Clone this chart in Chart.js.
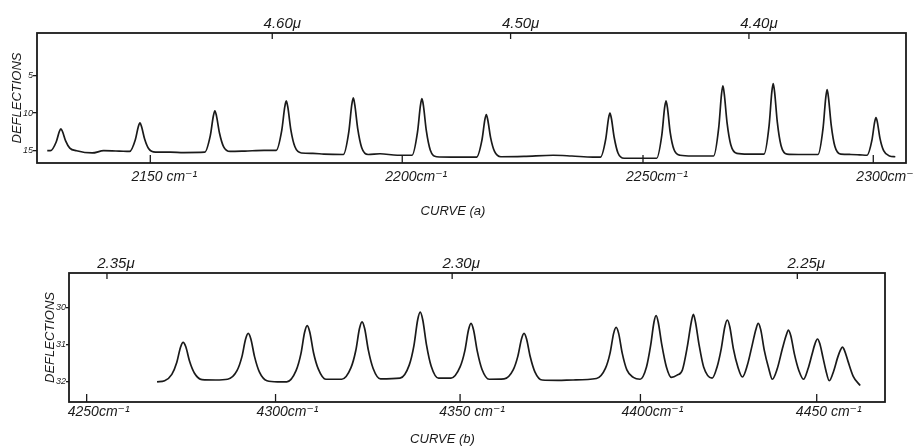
<!DOCTYPE html>
<html>
<head>
<meta charset="utf-8">
<script src="https://cdn.jsdelivr.net/npm/chart.js@4.4.1/dist/chart.umd.min.js"></script>
<style>
  html, body { margin: 0; padding: 0; background: #fff; }
  body { width: 914px; height: 447px; overflow: hidden; position: relative; }
  .panel { position: absolute; left: 0; width: 914px; }
  #panelA { top: 0; height: 230px; }
  #panelB { top: 229px; height: 218px; }
</style>
</head>
<body>
<div class="panel" id="panelA"><canvas id="curveA"></canvas></div>
<div class="panel" id="panelB"><canvas id="curveB"></canvas></div>
<script>
// curve (a): wavenumber (cm-1) and deflection
var waveA = [2130.2, 2130.8, 2131.9, 2132.5, 2132.8, 2133.1, 2133.7, 2134.5, 2135.8, 2138.8, 2141.0, 2144.0,
  2146.0, 2147.1, 2147.7, 2148.0, 2148.3, 2148.9, 2149.7, 2151.0, 2153.9, 2156.5,
  2160.6, 2161.7, 2162.3, 2162.6, 2162.9, 2163.5, 2164.3, 2165.6, 2168.5, 2172.3,
  2174.7, 2175.8, 2176.4, 2176.7, 2177.0, 2177.6, 2178.4, 2179.7, 2182.0, 2184.2,
  2188.1, 2189.2, 2189.8, 2190.1, 2190.4, 2191.0, 2191.8, 2193.1, 2195.5, 2199.0,
  2202.0, 2203.1, 2203.7, 2204.0, 2204.3, 2204.9, 2205.7, 2207.0, 2210.0, 2213.3,
  2215.2, 2216.3, 2216.9, 2217.2, 2217.5, 2218.1, 2218.9, 2220.2, 2225.0, 2231.1, 2235.0, 2239.4,
  2241.0, 2242.1, 2242.7, 2243.0, 2243.3, 2243.9, 2244.7, 2246.0, 2249.0, 2251.5,
  2252.9, 2254.0, 2254.6, 2254.9, 2255.2, 2255.8, 2256.6, 2257.9, 2260.5, 2263.3,
  2265.1, 2266.2, 2266.8, 2267.1, 2267.4, 2268.0, 2268.8, 2270.1, 2272.5, 2274.0,
  2276.0, 2277.1, 2277.7, 2278.0, 2278.3, 2278.9, 2279.7, 2281.0, 2283.5, 2285.8,
  2287.8, 2288.9, 2289.5, 2289.8, 2290.1, 2290.7, 2291.5, 2292.8, 2295.0, 2297.0,
  2298.6, 2299.7, 2300.3, 2300.6, 2300.9, 2301.5, 2302.3, 2303.6, 2304.9];
var deflA = [15.0, 15.0, 13.84, 12.45, 12.1, 12.45, 13.7, 14.65, 15.0, 15.3, 15.0, 15.05,
  15.1, 13.55, 11.75, 11.3, 11.8, 13.45, 14.75, 15.2, 15.2, 15.25,
  15.2, 13.0, 10.4, 9.7, 10.35, 12.65, 14.45, 15.1, 15.05, 14.95,
  14.95, 12.3, 9.2, 8.4, 9.2, 12.2, 14.45, 15.3, 15.35, 15.45,
  15.5, 12.5, 8.9, 8.0, 8.9, 12.1, 14.6, 15.5, 15.4, 15.6,
  15.6, 12.55, 9.0, 8.1, 9.0, 12.35, 14.9, 15.8, 15.85, 15.85,
  15.85, 13.6, 10.9, 10.2, 10.9, 13.3, 15.1, 15.8, 15.75, 15.6, 15.7, 15.85,
  15.85, 13.5, 10.7, 10.0, 10.7, 13.25, 15.3, 16.0, 16.0, 16.0,
  16.0, 12.95, 9.3, 8.4, 9.3, 12.6, 14.85, 15.6, 15.7, 15.7,
  15.7, 11.95, 7.5, 6.4, 7.5, 11.3, 14.2, 15.35, 15.45, 15.45,
  15.45, 11.7, 7.2, 6.1, 7.2, 11.25, 14.3, 15.45, 15.5, 15.5,
  15.5, 12.05, 7.95, 6.9, 7.95, 11.6, 14.4, 15.45, 15.5, 15.55,
  15.6, 13.6, 11.2, 10.6, 11.2, 13.4, 15.0, 15.7, 15.8];

// curve (b)
var waveB = [4268.5, 4270.5, 4272.4, 4273.7, 4274.7, 4275.4, 4276.1, 4277.1, 4278.4, 4280.4, 4284.0, 4287.2,
  4289.7, 4291.0, 4292.0, 4292.7, 4293.4, 4294.4, 4295.7, 4297.7, 4300.5, 4303.0,
  4305.5, 4306.8, 4307.8, 4308.5, 4309.2, 4310.2, 4311.5, 4313.5, 4317.8,
  4320.3, 4321.6, 4322.6, 4323.3, 4324.0, 4325.0, 4326.3, 4328.3, 4333.6,
  4336.1, 4337.4, 4338.4, 4339.1, 4339.8, 4340.8, 4342.1, 4344.1, 4347.5,
  4350.0, 4351.3, 4352.3, 4353.0, 4353.7, 4354.7, 4356.0, 4358.0, 4362.1,
  4364.6, 4365.9, 4366.9, 4367.6, 4368.3, 4369.3, 4370.6, 4372.6, 4377.0, 4381.2, 4387.7,
  4390.2, 4391.5, 4392.5, 4393.2, 4393.9, 4394.9, 4396.2, 4398.0, 4399.9,
  4401.7, 4402.9, 4403.8, 4404.4, 4405.0, 4406.0, 4407.3, 4408.7, 4410.3, 4411.8,
  4413.2, 4414.3, 4414.9, 4415.5, 4416.5, 4417.8, 4420.2,
  4421.6, 4422.8, 4423.8, 4424.5, 4425.2, 4426.2, 4427.5, 4428.8,
  4430.2, 4431.6, 4432.6, 4433.3, 4434.0, 4435.0, 4436.3, 4437.3,
  4438.7, 4440.2, 4441.2, 4441.9, 4442.6, 4443.6, 4444.9, 4446.2,
  4447.5, 4448.6, 4449.5, 4450.2, 4450.9, 4451.8, 4452.6, 4453.6,
  4454.9, 4456.0, 4456.8, 4457.4, 4458.0, 4459.0, 4460.5, 4462.5];
var deflB = [32.0, 31.97, 31.8, 31.48, 31.07, 30.94, 31.06, 31.45, 31.77, 31.94, 31.95, 31.93,
  31.7, 31.33, 30.85, 30.7, 30.85, 31.33, 31.74, 31.97, 32.0, 32.0,
  31.7, 31.25, 30.67, 30.49, 30.67, 31.22, 31.66, 31.93, 31.93,
  31.62, 31.16, 30.57, 30.39, 30.57, 31.15, 31.64, 31.92, 31.9,
  31.55, 31.02, 30.34, 30.13, 30.34, 31.0, 31.58, 31.9, 31.9,
  31.6, 31.17, 30.61, 30.43, 30.61, 31.17, 31.66, 31.93, 31.92,
  31.68, 31.31, 30.85, 30.7, 30.85, 31.32, 31.73, 31.95, 31.96, 31.95, 31.91,
  31.64, 31.23, 30.7, 30.54, 30.7, 31.23, 31.68, 31.88, 31.93,
  31.6, 31.0, 30.4, 30.22, 30.4, 31.0, 31.6, 31.88, 31.82, 31.68,
  31.05, 30.4, 30.19, 30.4, 31.0, 31.6, 31.9,
  31.6, 31.1, 30.52, 30.34, 30.52, 31.1, 31.6, 31.87,
  31.55, 31.0, 30.6, 30.43, 30.6, 31.15, 31.65, 31.93,
  31.65, 31.1, 30.77, 30.61, 30.77, 31.25, 31.7, 31.93,
  31.65, 31.28, 30.98, 30.85, 30.98, 31.35, 31.68, 31.97,
  31.7, 31.35, 31.15, 31.07, 31.16, 31.45, 31.85, 32.1];

// tick values and labels
var micronTicksA = [4.60, 4.50, 4.40];
var wavenumberTicksA = [2150, 2200, 2250, 2300];
var wavenumberLabelsA = ['2150 cm⁻¹', '2200cm⁻¹', '2250cm⁻¹', '2300cm⁻¹'];
var deflTicksA = [5, 10, 15];

var micronTicksB = [2.35, 2.30, 2.25];
var wavenumberTicksB = [4250, 4300, 4350, 4400, 4450];
var wavenumberLabelsB = ['4250cm⁻¹', '4300cm⁻¹', '4350 cm⁻¹', '4400cm⁻¹', '4450 cm⁻¹'];
var deflTicksB = [30, 31, 32];

var INK = '#1a1a1a';
var FONT = "'Liberation Sans', 'DejaVu Sans', sans-serif";

// the prism drive is linear in wavelength, so the x scale runs in microns
function toMicrons(nu) { return 10000 / nu; }

var frameTicks = {
  id: 'frameTicks',
  afterDraw: function(chart, args, opts) {
    var a = chart.chartArea, ctx = chart.ctx;
    ctx.save();
    ctx.strokeStyle = INK;
    ctx.lineWidth = 1.8;
    ctx.strokeRect(a.left, a.top, a.right - a.left, a.bottom - a.top);
    ctx.lineWidth = 1.3;
    chart.scales.x.ticks.forEach(function(t) {
      var px = chart.scales.x.getPixelForValue(t.value);
      ctx.beginPath(); ctx.moveTo(px, a.top); ctx.lineTo(px, a.top + opts.top); ctx.stroke();
    });
    chart.scales.nu.ticks.forEach(function(t) {
      var px = chart.scales.nu.getPixelForValue(t.value);
      ctx.beginPath(); ctx.moveTo(px, a.bottom); ctx.lineTo(px, a.bottom - opts.bottom); ctx.stroke();
    });
    ctx.restore();
  }
};

function drawPanel(id, p) {
  var points = p.wave.map(function(nu, i) { return { x: toMicrons(nu), y: p.defl[i] }; });
  new Chart(document.getElementById(id), {
    type: 'line',
    data: {
      datasets: [{
        data: points,
        borderColor: INK,
        borderWidth: 1.7,
        pointRadius: 0,
        fill: false,
        cubicInterpolationMode: 'monotone'
      }]
    },
    plugins: [frameTicks],
    options: {
      responsive: true,
      maintainAspectRatio: false,
      animation: false,
      events: [],
      layout: { padding: p.padding, autoPadding: false },
      plugins: {
        legend: { display: false },
        tooltip: { enabled: false },
        frameTicks: { top: p.tickTop, bottom: p.tickBottom },
        title: {
          display: true,
          position: 'bottom',
          text: p.caption,
          color: INK,
          font: { family: FONT, size: 13, style: 'italic', weight: 'normal' },
          padding: p.captionPad
        }
      },
      scales: {
        x: {
          type: 'linear', position: 'top', reverse: true, bounds: 'data',
          min: p.lamMin, max: p.lamMax,
          afterBuildTicks: function(s) { s.ticks = p.micronTicks.map(function(v) { return { value: v }; }); },
          afterFit: function(s) { s.height = p.topH; },
          ticks: {
            autoSkip: false, maxRotation: 0, padding: p.topPad, labelOffset: p.topOffset, color: INK,
            font: { family: FONT, size: 15, style: 'italic' },
            callback: function(v) { return v.toFixed(2) + 'μ'; }
          },
          grid: { display: false, drawTicks: false },
          border: { display: false }
        },
        nu: {
          type: 'linear', position: 'bottom', reverse: true, bounds: 'data',
          min: p.lamMin, max: p.lamMax,
          afterBuildTicks: function(s) { s.ticks = p.nuTicks.map(function(n) { return { value: toMicrons(n) }; }); },
          afterFit: function(s) { s.height = p.bottomH; },
          ticks: {
            autoSkip: false, maxRotation: 0, padding: p.bottomPad, labelOffset: p.bottomOffset, color: INK,
            font: { family: FONT, size: 14, style: 'italic' },
            callback: function(v, i) { return p.nuLabels[i]; }
          },
          grid: { display: false, drawTicks: false },
          border: { display: false }
        },
        y: {
          type: 'linear', position: 'left', reverse: true, bounds: 'data',
          min: p.yMin, max: p.yMax,
          afterBuildTicks: function(s) { s.ticks = p.yTicks.map(function(v) { return { value: v }; }); },
          afterFit: function(s) { s.width = p.leftW; },
          ticks: {
            padding: 0, color: INK,
            font: { family: FONT, size: 9, style: 'italic' }
          },
          grid: { drawOnChartArea: false, drawTicks: true, tickLength: p.yTick, color: INK, lineWidth: 1.3 },
          border: { display: false },
          title: {
            display: true, text: 'DEFLECTIONS', color: INK,
            font: { family: FONT, size: 13, style: 'italic' },
            padding: { top: p.titlePad, bottom: 0 }
          }
        }
      }
    }
  });
}

drawPanel('curveA', {
  wave: waveA, defl: deflA, caption: 'CURVE (a)',
  micronTicks: micronTicksA, nuTicks: wavenumberTicksA, nuLabels: wavenumberLabelsA, yTicks: deflTicksA,
  lamMin: 4.3341, lamMax: 4.6987, yMin: -0.61, yMax: 16.63,
  padding: { left: 0, right: 8, top: 0, bottom: 7 }, captionPad: { top: 4, bottom: 4 },
  topH: 33, bottomH: 36.4, leftW: 37,
  topOffset: 10, topPad: 0, bottomOffset: 14, bottomPad: 6,
  tickTop: 6, tickBottom: 8, yTick: 4, titlePad: 10
});

drawPanel('curveB', {
  wave: waveB, defl: deflB, caption: 'CURVE (b)',
  micronTicks: micronTicksB, nuTicks: wavenumberTicksB, nuLabels: wavenumberLabelsB, yTicks: deflTicksB,
  lamMin: 2.2373, lamMax: 2.3555, yMin: 29.08, yMax: 32.54,
  padding: { left: 0, right: 29, top: 0, bottom: 0 }, captionPad: { top: 4, bottom: 0 },
  topH: 44, bottomH: 25.4, leftW: 69,
  topOffset: 9, topPad: 0, bottomOffset: 12, bottomPad: 2,
  tickTop: 6, tickBottom: 8, yTick: 3, titlePad: 43
});
</script>
</body>
</html>
